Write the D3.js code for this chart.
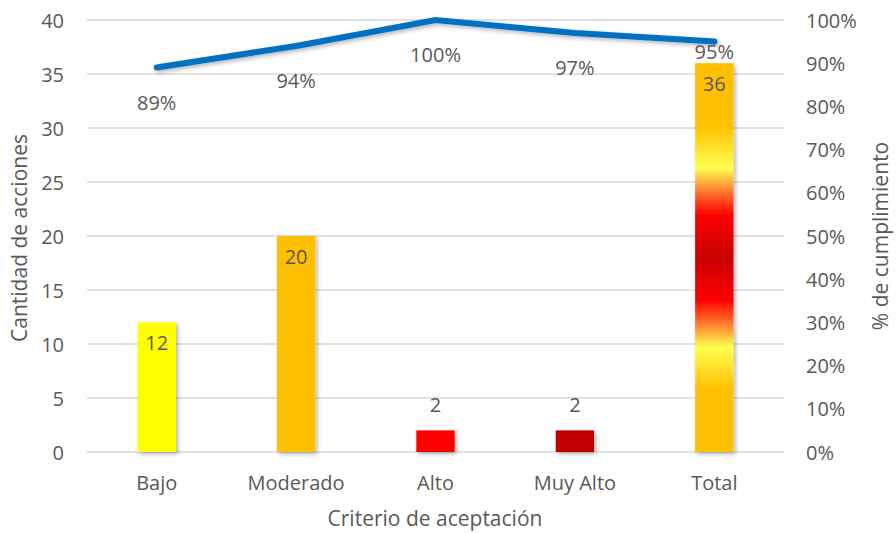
<!DOCTYPE html>
<html><head><meta charset="utf-8">
<script src="https://cdn.jsdelivr.net/npm/d3@7"></script>
<style>body{margin:0;background:#fff}svg text{font-family:"Open Sans","Noto Sans",sans-serif;fill:#595959}</style>
</head><body><svg id="c" width="896" height="533"></svg>
<script>
const categories = ["Bajo","Moderado","Alto","Muy Alto","Total"];
const counts = [12,20,2,2,36];
const compliance = [0.89,0.94,1.00,0.97,0.95];
const leftTicks = [0,5,10,15,20,25,30,35,40];
const rightTicks = [0,0.1,0.2,0.3,0.4,0.5,0.6,0.7,0.8,0.9,1.0];
const barColors = ["#FFFF00","#FFC000","#FF0000","#C00000","url(#gTotal)"];

const svg = d3.select("#c");
const L=87,R=784,T=20,B=452;
const FS=20, FT=21;
const x = d3.scaleBand().domain(categories).range([L,R]).padding(0);
const y = d3.scaleLinear().domain([0,40]).range([B,T]);
const y2 = d3.scaleLinear().domain([0,1]).range([B,T]);
const bw = x.bandwidth()*0.275;

const defs = svg.append("defs");
const g = defs.append("linearGradient").attr("id","gTotal").attr("x1",0).attr("y1",0).attr("x2",0).attr("y2",1);
[[0,"#FFC000"],[0.16,"#FFC000"],[0.27,"#FFFF50"],[0.33,"#FF7A30"],[0.39,"#FF0000"],[0.5,"#C80000"],[0.61,"#FF0000"],[0.67,"#FF7A30"],[0.73,"#FFFF50"],[0.84,"#FFC000"],[1,"#FFC000"]]
  .forEach(s=>g.append("stop").attr("offset",s[0]).attr("stop-color",s[1]));
const f = defs.append("filter").attr("id","sh").attr("x","-20%").attr("y","-20%").attr("width","150%").attr("height","150%");
f.append("feDropShadow").attr("dx",2).attr("dy",2).attr("stdDeviation",2).attr("flood-color","#000").attr("flood-opacity",0.3);

// grid
svg.append("g").selectAll("line").data(leftTicks).join("line")
  .attr("x1",L).attr("x2",R).attr("y1",d=>y(d)).attr("y2",d=>y(d))
  .attr("stroke","#D9D9D9").attr("stroke-width",1.5);

// left axis
const ax = d3.axisLeft(y).tickValues(leftTicks).tickSize(0).tickPadding(0);
const gl = svg.append("g").attr("transform",`translate(${64},0)`).call(ax);
gl.select(".domain").remove();
gl.selectAll("text").attr("font-size",FS).attr("dy","0.35em").style("fill","#595959");

// right axis
const ar = d3.axisRight(y2).tickValues(rightTicks).tickSize(0).tickPadding(0).tickFormat(d3.format(".0%"));
const gr = svg.append("g").attr("transform",`translate(${806},0)`).call(ar);
gr.select(".domain").remove();
gr.selectAll("text").attr("font-size",FS).attr("dy","0.35em").style("fill","#595959");

// bottom axis
const ab = d3.axisBottom(x).tickSize(0).tickPadding(0);
const gb = svg.append("g").attr("transform",`translate(0,${483})`).call(ab);
gb.select(".domain").remove();
gb.selectAll("text").attr("font-size",FS).attr("dy","0.35em").style("fill","#595959");

// bars
svg.append("g").selectAll("rect").data(categories).join("rect")
  .attr("x",d=>x(d)+x.bandwidth()/2-bw/2).attr("width",bw)
  .attr("y",(d,i)=>y(counts[i])).attr("height",(d,i)=>B-y(counts[i]))
  .attr("fill",(d,i)=>barColors[i]).attr("filter","url(#sh)");

// bar labels
svg.append("g").selectAll("text").data(categories).join("text")
  .attr("x",d=>x(d)+x.bandwidth()/2).attr("text-anchor","middle").attr("font-size",FS)
  .attr("y",(d,i)=>counts[i]>5 ? y(counts[i])+21 : y(counts[i])-25).attr("dy","0.35em")
  .text((d,i)=>counts[i]);

// line
const line = d3.line().x(d=>x(d[0])+x.bandwidth()/2).y(d=>y2(d[1])).curve(d3.curveLinear);
svg.append("path").datum(categories.map((c,i)=>[c,compliance[i]]))
  .attr("d",line).attr("fill","none").attr("stroke","#0070C0").attr("stroke-width",6)
  .attr("stroke-linecap","round").attr("filter","url(#sh)");

// line labels
svg.append("g").selectAll("text").data(categories).join("text")
  .attr("x",d=>x(d)+x.bandwidth()/2).attr("text-anchor","middle").attr("font-size",FS)
  .attr("y",(d,i)=>y2(compliance[i])+(i===categories.length-1?10:35)).attr("dy","0.35em")
  .text((d,i)=>d3.format(".0%")(compliance[i]));

// titles
svg.append("text").attr("transform","translate(20,238) rotate(-90)").attr("dy","0.35em").attr("text-anchor","middle").attr("font-size",FT).text("Cantidad de acciones");
svg.append("text").attr("transform","translate(881,236) rotate(-90)").attr("dy","0.35em").attr("text-anchor","middle").attr("font-size",FT).text("% de cumplimiento");
svg.append("text").attr("x",435).attr("y",519).attr("dy","0.35em").attr("text-anchor","middle").attr("font-size",FT).text("Criterio de aceptación");
</script></body></html>
